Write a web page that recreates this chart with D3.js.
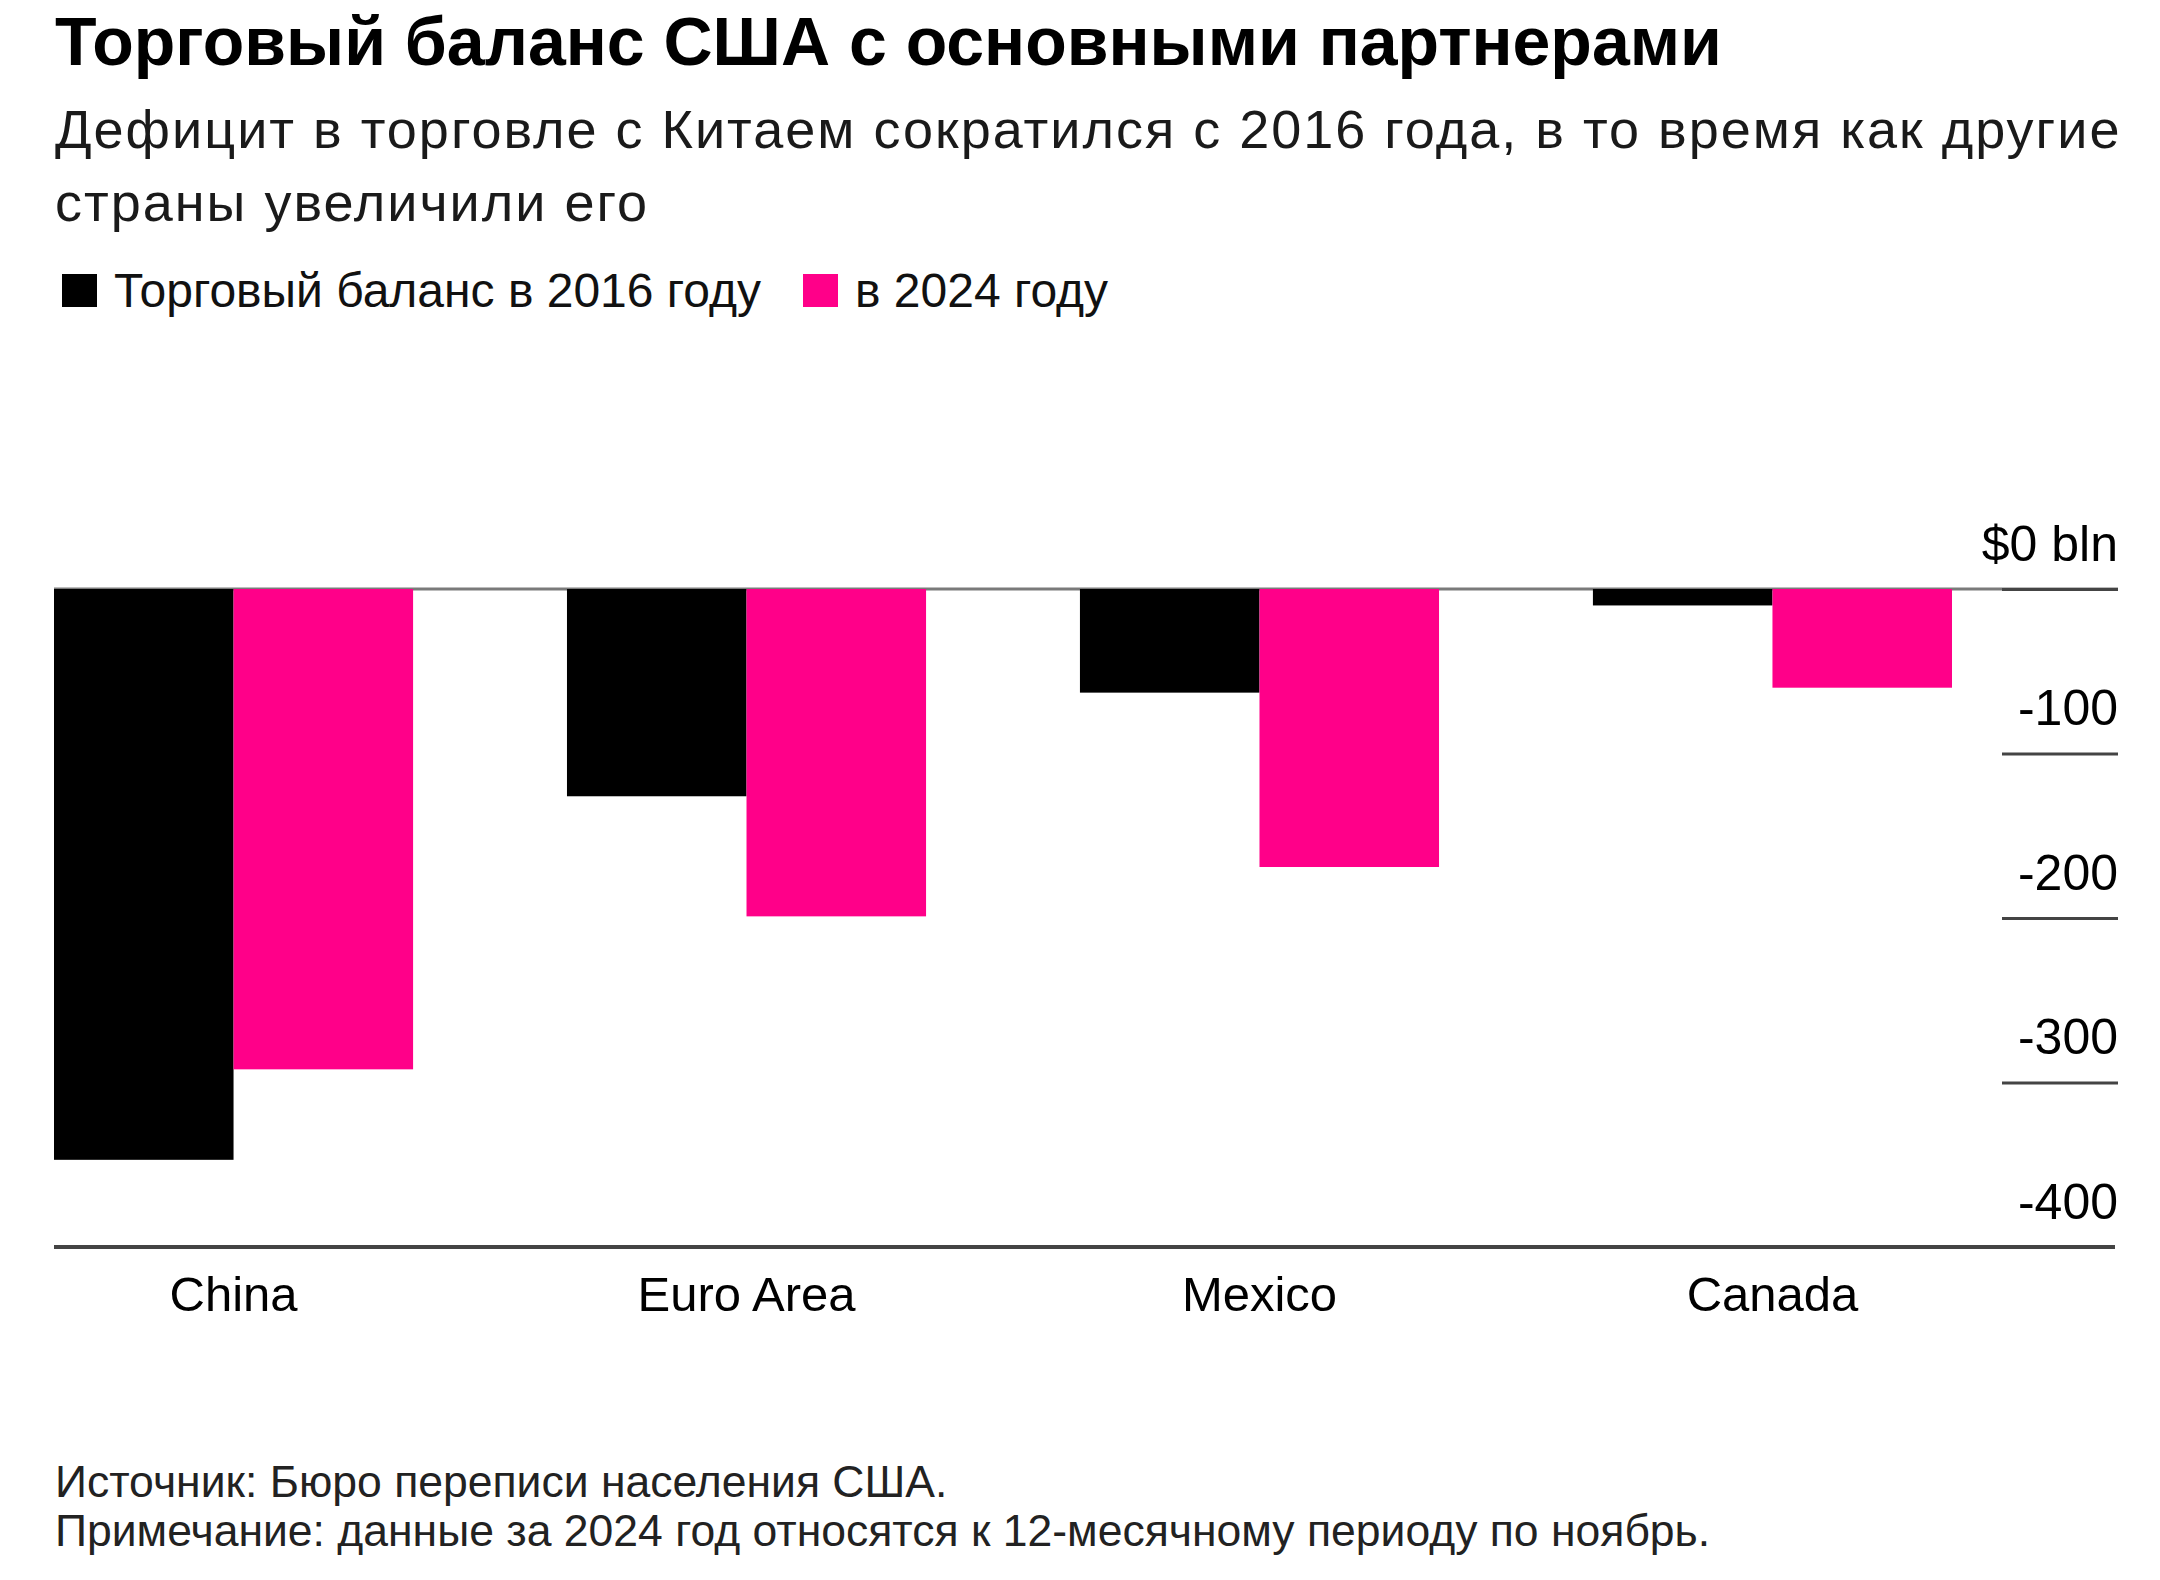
<!DOCTYPE html>
<html>
<head>
<meta charset="utf-8">
<script src="https://cdn.jsdelivr.net/npm/d3@7"></script>
<style>
  body { margin: 0; background: #fff; }
  text { font-family: "Liberation Sans", Arial, sans-serif; }
</style>
</head>
<body>
<div id="chart"></div>
<script>
// data ($ bln)
var countries = ["China", "Euro Area", "Mexico", "Canada"];
var series = ["2016", "2024"];
var bal2016 = [-347, -126, -63, -10];
var bal2024 = [-292, -199, -169, -60];
var yTicks = [0, -100, -200, -300, -400];
var legendLabels = ["Торговый баланс в 2016 году", "в 2024 году"];

var colors = { "2016": "#000000", "2024": "#ff0089" };

var svgWidth = 2160, svgHeight = 1580;
var rightEdge = 2118;

var svg = d3.select("#chart").append("svg")
    .attr("width", svgWidth)
    .attr("height", svgHeight);

// titles
svg.append("text")
    .attr("x", 55).attr("y", 65)
    .attr("font-size", 68).attr("font-weight", "bold")
    .attr("fill", "#000")
    .text("Торговый баланс США с основными партнерами");

var sub = ["Дефицит в торговле с Китаем сократился с 2016 года, в то время как другие",
           "страны увеличили его"];
svg.selectAll(".sub").data(sub).enter().append("text")
    .attr("class", "sub")
    .attr("x", 55).attr("y", (d, i) => 148 + i * 73)
    .attr("font-size", 54).attr("letter-spacing", 2)
    .attr("fill", "#1a1a1a")
    .text(d => d);

// legend
var legX = [62, 803];
var legend = svg.selectAll(".leg").data(series).enter().append("g")
    .attr("class", "leg")
    .attr("transform", (d, i) => `translate(${legX[i]}, 274)`);
legend.append("rect")
    .attr("width", 35).attr("height", 33)
    .attr("fill", d => colors[d]);
legend.append("text")
    .attr("x", 52).attr("y", 33)
    .attr("font-size", 48).attr("fill", "#111")
    .text((d, i) => legendLabels[i]);

// scales
var x0 = d3.scaleBand()
    .domain(countries)
    .range([54, 1952])
    .paddingInner(0.3)
    .paddingOuter(0);

var x1 = d3.scaleBand()
    .domain(series)
    .range([0, x0.bandwidth()]);

var y = d3.scaleLinear()
    .domain([0, -400])
    .range([589, 1247]);

var rows = countries.map((c, i) => ({ country: c, values: [
    { key: "2016", value: bal2016[i] },
    { key: "2024", value: bal2024[i] }
]}));

// zero line
svg.append("line")
    .attr("x1", 54).attr("x2", rightEdge)
    .attr("y1", y(0)).attr("y2", y(0))
    .attr("stroke", "#7a7a7a").attr("stroke-width", 3);

// bars
svg.append("g").selectAll("g")
    .data(rows).enter().append("g")
    .attr("transform", d => `translate(${x0(d.country)},0)`)
    .selectAll("rect")
    .data(d => d.values).enter().append("rect")
    .attr("x", d => x1(d.key))
    .attr("width", x1.bandwidth())
    .attr("y", y(0))
    .attr("height", d => y(d.value) - y(0))
    .attr("fill", d => colors[d.key]);

// right-side value axis
var yAxis = d3.axisLeft(y)
    .tickValues(yTicks)
    .tickSize(116)
    .tickFormat(d => d === 0 ? "$0 bln" : String(d));

var yg = svg.append("g")
    .attr("transform", `translate(${rightEdge},0)`)
    .call(yAxis);
yg.select(".domain").remove();
yg.selectAll(".tick line")
    .attr("stroke", "#444").attr("stroke-width", 3)
    .filter(d => d === -400).remove();
yg.selectAll(".tick text")
    .attr("x", 0).attr("dy", null).attr("y", -29)
    .attr("font-size", 50).attr("fill", "#000")
    .attr("font-family", "Liberation Sans, Arial, sans-serif");

// bottom baseline + category labels
svg.append("line")
    .attr("x1", 54).attr("x2", rightEdge - 3)
    .attr("y1", y(-400)).attr("y2", y(-400))
    .attr("stroke", "#444").attr("stroke-width", 4);

var xAxis = d3.axisBottom(x0).tickSize(0);
var xg = svg.append("g")
    .attr("transform", `translate(0, ${y(-400)})`)
    .call(xAxis);
xg.select(".domain").remove();
xg.selectAll(".tick text")
    .attr("y", 64).attr("dy", null)
    .attr("font-size", 49).attr("fill", "#000")
    .attr("font-family", "Liberation Sans, Arial, sans-serif");

// footer
var notes = ["Источник: Бюро переписи населения США.",
             "Примечание: данные за 2024 год относятся к 12-месячному периоду по ноябрь."];
svg.selectAll(".note").data(notes).enter().append("text")
    .attr("class", "note")
    .attr("x", 55).attr("y", (d, i) => 1497 + i * 49)
    .attr("font-size", 44.5).attr("fill", "#222")
    .text(d => d);
</script>
</body>
</html>
